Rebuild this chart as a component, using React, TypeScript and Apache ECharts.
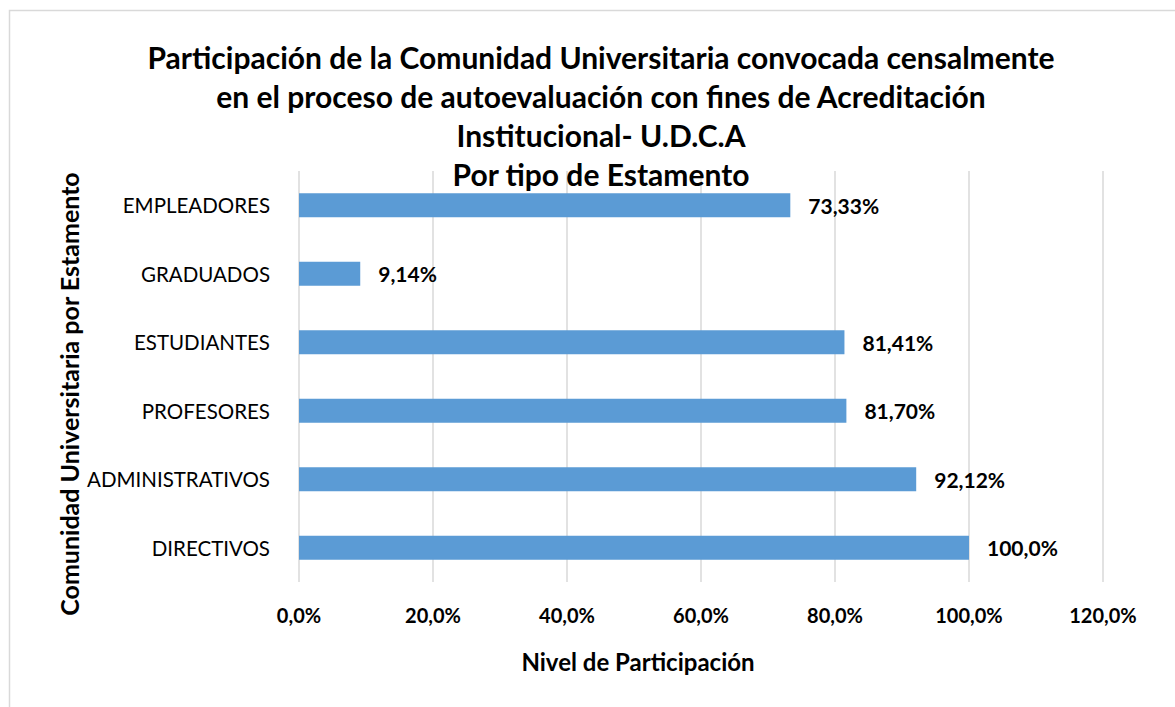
import React, { useEffect, useRef } from "react";
import * as echarts from "echarts";

const titleLines = [
  "Participación de la Comunidad Universitaria convocada censalmente",
  "en el proceso de autoevaluación con fines de Acreditación",
  "Institucional- U.D.C.A",
  "Por tipo de Estamento",
];
const categories = ["EMPLEADORES", "GRADUADOS", "ESTUDIANTES", "PROFESORES", "ADMINISTRATIVOS", "DIRECTIVOS"];
const values = [73.33, 9.14, 81.41, 81.7, 92.12, 100.0];
const valueLabels = ["73,33%", "9,14%", "81,41%", "81,70%", "92,12%", "100,0%"];
const xAxisName = "Nivel de Participación";
const yAxisName = "Comunidad Universitaria por Estamento";

const FONT = "Lato, 'Open Sans', sans-serif";

export default function App() {
  const ref = useRef<HTMLDivElement>(null);
  useEffect(() => {
    if (!ref.current) return;
    const chart = echarts.init(ref.current, null, { renderer: "svg" });
    chart.setOption({
      animation: false,
      backgroundColor: "#ffffff",
      textStyle: { fontFamily: FONT },
      title: {
        text: titleLines.join("\n"),
        left: 596,
        top: 32,
        textAlign: "center",
        textStyle: {
          fontFamily: FONT,
          fontSize: 30,
          fontWeight: "bold",
          color: "#000000",
          lineHeight: 39,
        },
      },
      grid: { left: 299, right: 72, top: 171, bottom: 125, containLabel: false },
      xAxis: {
        type: "value",
        min: 0,
        max: 120,
        interval: 20,
        axisLine: { show: false },
        axisTick: { show: false },
        splitLine: { show: true, lineStyle: { color: "#d9d9d9", width: 1.5 } },
        axisLabel: {
          margin: 23,
          fontFamily: FONT,
          fontSize: 20,
          fontWeight: "bold",
          color: "#000000",
          formatter: (v: number) => v.toFixed(1).replace(".", ",") + "%",
        },
      },
      yAxis: {
        type: "category",
        data: categories,
        inverse: true,
        axisLine: { show: false },
        axisTick: { show: false },
        axisLabel: {
          margin: 29,
          fontFamily: FONT,
          fontSize: 20.5,
          color: "#000000",
        },
      },
      series: [
        {
          type: "bar",
          data: values,
          barWidth: 24,
          itemStyle: { color: "#5b9bd5" },
          label: {
            show: true,
            position: "right",
            distance: 18,
            fontFamily: FONT,
            fontSize: 21,
            fontWeight: "bold",
            color: "#000000",
            formatter: (p: any) => valueLabels[p.dataIndex],
          },
        },
      ],
      graphic: [
        {
          type: "rect",
          shape: { x: 9.5, y: 10.5, width: 1300, height: 900 },
          style: { fill: "none", stroke: "#d9d9d9", lineWidth: 1.5 },
          silent: true,
        },
        {
          type: "text",
          x: 638,
          y: 661,
          style: {
            text: xAxisName,
            fontFamily: FONT,
            fontSize: 24,
            fontWeight: "bold",
            fill: "#000000",
            align: "center",
            verticalAlign: "middle",
          },
        },
        {
          type: "text",
          x: 69,
          y: 394,
          rotation: Math.PI / 2,
          style: {
            text: yAxisName,
            fontFamily: FONT,
            fontSize: 25,
            fontWeight: "bold",
            fill: "#000000",
            align: "center",
            verticalAlign: "middle",
          },
        },
      ],
    });
    return () => chart.dispose();
  }, []);
  return (
    <div
      ref={ref}
      style={{ position: "fixed", left: 0, top: 0, width: 1175, height: 707 }}
    />
  );
}
